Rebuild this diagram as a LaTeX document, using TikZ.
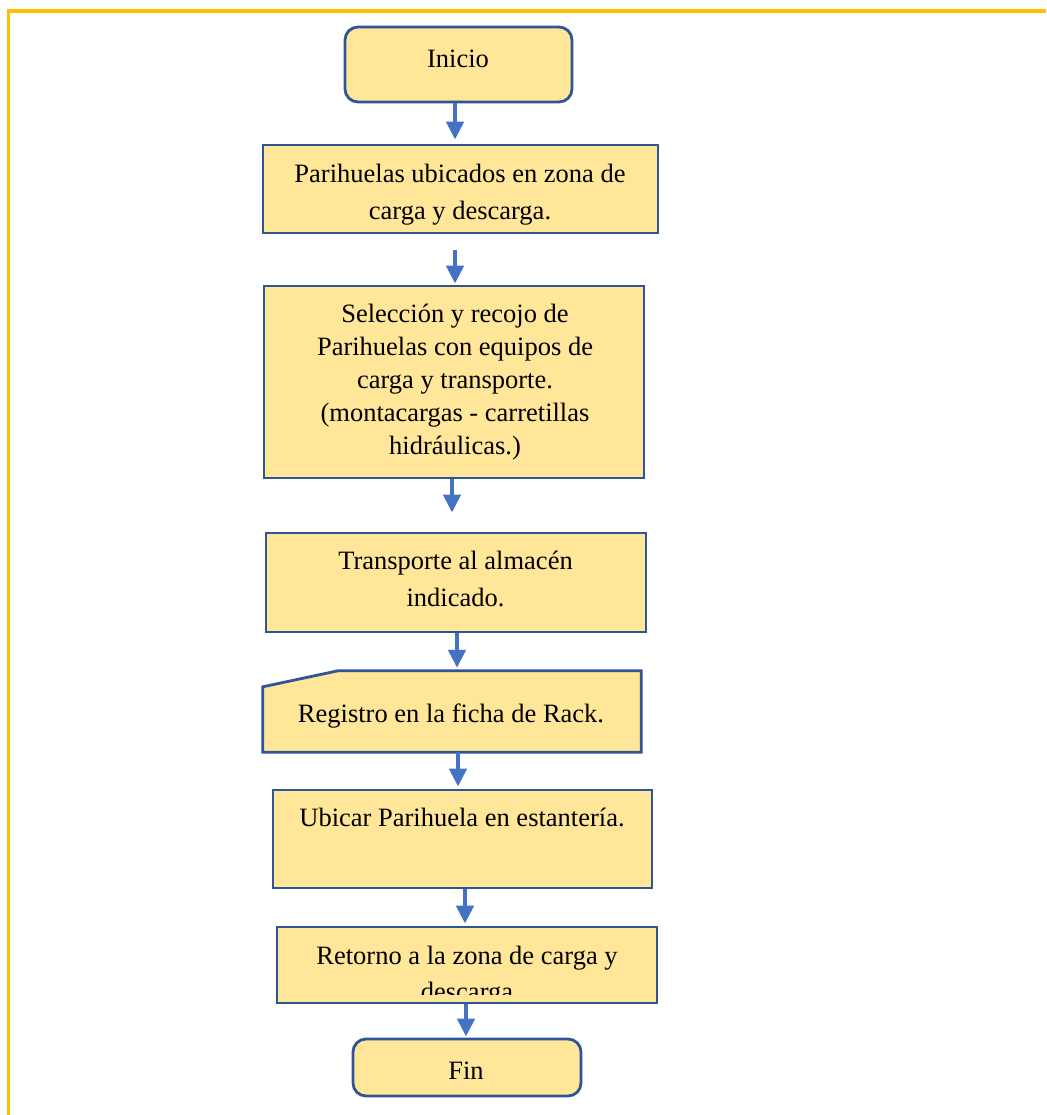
\documentclass[tikz,border=0pt]{standalone}
\usepackage{fontspec}
\setmainfont{Liberation Serif}
\usetikzlibrary{calc,arrows.meta}

\definecolor{boxfill}{HTML}{FFE699}
\definecolor{boxline}{HTML}{2F5597}
\definecolor{arrowblue}{HTML}{4472C4}
\definecolor{framegold}{HTML}{FFC000}

\tikzset{
  stepbox/.style={draw=boxline, fill=boxfill, line width=2.8pt, rectangle, inner sep=0pt},
  roundbox/.style={stepbox, rounded corners=13pt},
  ghostbox/.style={rectangle, inner sep=0pt},
  steptext/.style={inner sep=0pt, align=center, text=black,
    font=\fontsize{26.5}{37}\selectfont},
  flow/.style={draw=arrowblue, line width=4.8pt,
    -{Triangle[length=18pt,width=17pt]}},
}

\begin{document}
\begin{tikzpicture}[x=1pt,y=-1pt]
  \useasboundingbox (0,0) rectangle (1046,1115);
  \fill[white] (0,0) rectangle (1046,1115);

  % gold page frame (top and left edges)
  \draw[framegold, line width=3.2pt] (8.5,1115) -- (8.5,11) -- (1046,11);

  % process boxes
  \node[roundbox, minimum width=227pt, minimum height=75pt] (start) at (458.5,64.5) {};
  \node[stepbox, minimum width=395pt, minimum height=88pt] (b2) at (460.5,189) {};
  \node[stepbox, minimum width=380pt, minimum height=192pt] (b3) at (454,382) {};
  \node[stepbox, minimum width=380pt, minimum height=99pt] (b4) at (456,582.5) {};
  \node[ghostbox, minimum width=378pt, minimum height=81pt] (b5) at (452,711.5) {};
  \draw[stepbox] (b5.south west) -- (b5.south east) -- (b5.north east)
    -- ([xshift=75pt]b5.north west) -- ([yshift=-16pt]b5.north west) -- cycle;
  \node[stepbox, minimum width=379pt, minimum height=98pt] (b6) at (462.5,839) {};
  \node[stepbox, minimum width=380pt, minimum height=76pt] (b7) at (467,965) {};
  \node[roundbox, minimum width=228pt, minimum height=57pt] (end) at (467,1067.5) {};

  % box texts
  \node[steptext, anchor=base] (t1) at (458,68) {Inicio};
  \node[steptext] (t2) at (460,194.4) {Parihuelas ubicados en zona de\\carga y descarga.};
  \node[steptext, font=\fontsize{26.5}{33}\selectfont] (t3) at (455,382.3)
    {Selección y recojo de\\Parihuelas con equipos de\\carga y transporte.\\(montacargas - carretillas\\hidráulicas.)};
  \node[steptext] (t4) at (455.5,578.5) {Transporte al almacén\\indicado.};
  \node[steptext, anchor=base] (t5) at (451,722) {Registro en la ficha de Rack.};
  \node[steptext, anchor=base] (t6) at (462,826) {Ubicar Parihuela en estantería.};
  \begin{scope}
    \clip (b7.north west) rectangle ($(b7.south east)+(0,-10)$);
    \node[steptext, font=\fontsize{26.5}{36}\selectfont] (t7) at (467,975.8)
      {Retorno a la zona de carga y\\descarga};
  \end{scope}
  \node[steptext, anchor=base] (t8) at (466,1079) {Fin};

  % connectors
  \draw[flow] ($(start.south)+(-3.5,0)$) -- ($(b2.north)+(-5.5,-4)$);
  \draw[flow] ($(b2.south)+(-5.5,16)$) -- ($(b3.north)+(1,-1)$);
  \draw[flow] ($(b3.south)+(-2,0)$) -- ($(b4.north)+(-4,-19)$);
  \draw[flow] ($(b4.south)+(1,0)$) -- ($(b5.north)+(5,-3)$);
  \draw[flow] ($(b5.south)+(6,0)$) -- ($(b6.north)+(-4.5,-2)$);
  \draw[flow] ($(b6.south)+(2.5,0)$) -- ($(b7.north)+(-2,-2)$);
  \draw[flow] ($(b7.south)+(-1,0)$) -- ($(end.north)+(-1,-1)$);
\end{tikzpicture}
\end{document}
